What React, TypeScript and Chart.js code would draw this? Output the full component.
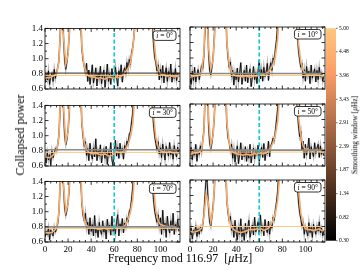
import React, { useEffect, useRef } from "react";
import { Chart, registerables } from "chart.js";
Chart.register(...registerables);

// ---------------- data ----------------
const PERIOD = 116.97;
const NU_MARK = 60;
const INCLINATIONS = [0, 10, 30, 50, 70, 90];
const X_TICKS = [0, 20, 40, 60, 80, 100];
const X_MINOR = [5, 10, 15, 25, 30, 35, 45, 50, 55, 65, 70, 75, 85, 90, 95, 105, 110, 115];
const Y_TICKS = [0.6, 0.8, 1.0, 1.2, 1.4];
const Y_MINOR = [0.7, 0.9, 1.1, 1.3];
const CBAR_TICKS = [0.3, 0.82, 1.34, 1.87, 2.39, 2.91, 3.43, 3.96, 4.48, 5.0];

const RAW_FREQ = [...Array(117).keys()];
const SMOOTH_FREQ = RAW_FREQ.filter((f) => f % 2 === 0);

const RAW_I0 = [
  0.68, 0.79, 0.72, 0.84, 0.66, 0.77, 0.81, 0.7, 0.86, 0.74,
  0.82, 0.88, 0.97, 1.25, 1.7, 1.85, 1.3, 0.98, 0.86, 0.96,
  1.1, 1.3, 1.65, 2.2, 3, 3, 3, 3, 3, 3,
  2.1, 1.45, 1.12, 0.98, 0.9, 0.82, 0.94, 0.7, 0.85, 0.66,
  0.79, 0.92, 0.68, 0.76, 0.88, 0.64, 0.81, 0.73, 0.9, 0.67,
  0.78, 0.85, 0.62, 0.76, 0.93, 0.7, 0.8, 0.66, 0.87, 0.74,
  0.71, 0.89, 0.76, 0.64, 0.84, 0.78, 0.92, 0.69, 0.83, 0.88,
  0.8, 0.95, 0.86, 0.99, 0.92, 1.08, 1.15, 1.28, 1.5, 2.0,
  3, 3, 3, 3, 3, 3, 3, 3, 3, 3,
  3, 2.6, 1.9, 1.45, 1.2, 1.02, 0.95, 0.84, 0.92, 0.72,
  0.86, 0.75, 0.91, 0.68, 0.8, 0.88, 0.7, 0.83, 0.76, 0.93,
  0.69, 0.81, 0.74, 0.87, 0.71, 0.79, 0.76,
];
const RAW_I10 = [
  0.74, 0.66, 0.83, 0.71, 0.88, 0.69, 0.78, 0.85, 0.72, 0.8,
  0.9, 0.86, 1.02, 1.35, 2.4, 1.9, 1.1, 0.84, 0.78, 0.88,
  1.0, 1.25, 1.6, 2.3, 3, 3, 3, 3, 3, 3,
  2.4, 1.55, 1.18, 1.0, 0.88, 0.95, 0.76, 0.84, 0.65, 0.81,
  0.72, 0.87, 0.69, 0.8, 0.94, 0.66, 0.77, 0.84, 0.7, 0.91,
  0.68, 0.79, 0.86, 0.63, 0.75, 0.89, 0.72, 0.81, 0.67, 0.84,
  0.97, 0.73, 0.85, 0.7, 0.88, 0.76, 0.82, 0.93, 0.71, 0.86,
  0.94, 0.84, 1.0, 0.95, 1.12, 1.24, 1.45, 1.9, 3, 3,
  3, 3, 3, 3, 3, 3, 3, 3, 3, 3,
  3, 2.2, 1.6, 1.3, 1.1, 0.97, 0.88, 0.93, 0.74, 0.85,
  0.7, 0.89, 0.77, 0.83, 0.67, 0.91, 0.74, 0.8, 0.86, 0.69,
  0.84, 0.72, 0.88, 0.76, 0.81, 0.7, 0.78,
];
const RAW_I30 = [
  0.7, 0.64, 0.78, 0.68, 0.75, 0.62, 0.8, 0.71, 0.77, 0.83,
  0.79, 0.88, 1.0, 1.3, 2.0, 2.2, 1.35, 1.0, 0.88, 0.95,
  1.08, 1.28, 1.7, 2.4, 3, 3, 3, 3, 3, 3,
  2.2, 1.5, 1.15, 0.99, 0.86, 0.92, 0.74, 0.83, 0.67, 0.9,
  0.75, 0.69, 0.84, 0.72, 0.96, 0.67, 0.8, 0.73, 0.88, 0.64,
  0.77, 0.83, 0.7, 0.86, 0.62, 0.79, 0.74, 0.91, 0.68, 0.6,
  0.82, 0.94, 0.73, 0.85, 0.7, 0.9, 0.77, 0.83, 0.69, 0.87,
  0.81, 0.93, 0.88, 1.02, 1.05, 1.18, 1.3, 1.6, 2.5, 3,
  3, 3, 3, 3, 3, 3, 3, 3, 3, 3,
  3, 2.4, 1.75, 1.38, 1.15, 1.0, 0.9, 0.82, 0.92, 0.76,
  0.84, 0.71, 0.89, 0.78, 0.68, 0.86, 0.8, 0.73, 0.91, 0.75,
  0.82, 0.69, 0.87, 0.77, 0.72, 0.85, 0.76,
];
const RAW_I50 = [
  0.72, 0.84, 0.68, 0.79, 0.74, 0.88, 0.66, 0.8, 0.75, 0.86,
  0.78, 0.92, 1.05, 1.45, 2.6, 2.0, 1.15, 0.9, 0.82, 0.9,
  1.02, 1.22, 1.55, 2.2, 3, 3, 3, 3, 3, 3,
  2.3, 1.48, 1.12, 0.96, 0.9, 0.8, 0.88, 0.7, 0.82, 0.65,
  0.78, 0.86, 0.63, 0.75, 0.9, 0.68, 0.81, 0.72, 0.85, 0.66,
  0.79, 0.7, 0.88, 0.64, 0.76, 0.83, 0.69, 0.8, 0.74, 0.87,
  0.66, 0.78, 0.84, 0.71, 0.89, 0.67, 0.8, 0.76, 0.92, 0.72,
  0.86, 0.9, 0.96, 0.92, 1.06, 1.2, 1.35, 1.7, 2.6, 3,
  3, 3, 3, 3, 3, 3, 3, 3, 3, 3,
  3, 2.3, 1.65, 1.32, 1.12, 0.98, 1.05, 0.8, 0.92, 0.7,
  0.88, 0.74, 0.82, 0.96, 0.69, 0.85, 0.78, 0.72, 0.9, 0.76,
  0.83, 0.88, 0.71, 0.86, 0.75, 0.8, 0.73,
];
const RAW_I70 = [
  0.66, 0.74, 0.7, 0.79, 0.63, 0.76, 0.71, 0.68, 0.8, 0.73,
  0.77, 0.84, 0.98, 1.3, 2.2, 1.8, 1.35, 1.05, 0.95, 1.02,
  1.12, 1.3, 1.62, 2.2, 3, 3, 3, 3, 3, 3,
  2.1, 1.42, 1.1, 0.95, 0.88, 0.98, 0.78, 0.86, 0.7, 0.92,
  0.74, 0.83, 0.68, 0.95, 0.72, 0.8, 0.66, 0.86, 0.75, 0.7,
  0.88, 0.73, 0.81, 0.64, 0.9, 0.76, 0.82, 0.69, 0.94, 0.74,
  0.8, 0.71, 0.87, 0.96, 0.68, 0.84, 0.77, 0.91, 0.72, 0.85,
  0.79, 0.92, 0.87, 1.0, 1.04, 1.16, 1.32, 1.58, 2.4, 3,
  3, 3, 3, 3, 3, 3, 3, 3, 3, 3,
  3, 2.5, 1.8, 1.4, 1.16, 1.01, 0.93, 0.86, 0.96, 0.8,
  0.92, 0.7, 1.02, 0.76, 0.85, 0.66, 0.94, 0.79, 0.72, 0.88,
  0.75, 0.98, 0.7, 0.83, 0.77, 0.9, 0.74,
];
const RAW_I90 = [
  0.7, 0.78, 0.64, 0.75, 0.72, 0.81, 0.67, 0.77, 0.7, 0.79,
  0.74, 0.82, 0.95, 1.2, 1.45, 1.35, 1.05, 0.86, 0.8, 0.92,
  1.06, 1.25, 1.6, 2.3, 3, 3, 3, 3, 3, 3,
  2.2, 1.48, 1.12, 0.97, 0.87, 0.93, 0.75, 0.82, 0.66, 0.88,
  0.72, 0.63, 0.8, 0.7, 0.9, 0.67, 0.76, 0.62, 0.84, 0.71,
  0.78, 0.88, 0.66, 0.74, 0.82, 0.69, 0.92, 0.73, 0.79, 0.86,
  0.7, 0.95, 0.74, 0.81, 0.68, 0.89, 0.76, 0.72, 0.87, 0.7,
  0.83, 0.78, 0.92, 0.88, 1.02, 1.12, 1.26, 1.55, 2.3, 3,
  3, 3, 3, 3, 3, 3, 3, 3, 3, 3,
  3, 2.4, 1.7, 1.35, 1.12, 0.98, 0.9, 0.8, 0.86, 0.7,
  0.8, 0.74, 0.68, 0.85, 0.72, 0.79, 0.66, 0.83, 0.76, 0.7,
  0.81, 0.74, 0.86, 0.72, 0.78, 0.68, 0.75,
];

const SMOOTH_I0 = [
  0.745, 0.75, 0.75, 0.76, 0.78, 0.8, 0.95, 1.55, 1.3, 0.93, 1.05, 1.6,
  3, 3, 3, 2.0, 1.15, 0.9, 0.8, 0.77, 0.76, 0.76, 0.75, 0.74,
  0.75, 0.74, 0.73, 0.75, 0.76, 0.75, 0.74, 0.76, 0.75, 0.77, 0.79, 0.83,
  0.87, 0.95, 1.12, 1.45, 3, 3, 3, 3, 3, 3, 2.2, 1.35,
  1.0, 0.86, 0.8, 0.79, 0.78, 0.77, 0.78, 0.77, 0.76, 0.77, 0.76,
];
const SMOOTH_I10 = [
  0.76, 0.76, 0.77, 0.77, 0.78, 0.82, 1.05, 1.9, 1.15, 0.86, 0.98, 1.45,
  3, 3, 3, 2.2, 1.2, 0.92, 0.82, 0.78, 0.77, 0.77, 0.76, 0.76,
  0.77, 0.76, 0.75, 0.76, 0.77, 0.77, 0.78, 0.78, 0.79, 0.8, 0.82, 0.86,
  0.92, 1.02, 1.25, 1.8, 3, 3, 3, 3, 3, 3, 1.8, 1.2,
  0.95, 0.84, 0.8, 0.79, 0.78, 0.78, 0.79, 0.78, 0.78, 0.77, 0.77,
];
const SMOOTH_I30 = [
  0.72, 0.71, 0.71, 0.73, 0.76, 0.8, 0.98, 1.7, 1.4, 0.92, 1.05, 1.65,
  3, 3, 3, 2.1, 1.18, 0.91, 0.81, 0.78, 0.77, 0.76, 0.77, 0.76,
  0.75, 0.75, 0.76, 0.74, 0.73, 0.74, 0.76, 0.79, 0.78, 0.78, 0.79, 0.83,
  0.89, 0.98, 1.15, 1.55, 3, 3, 3, 3, 3, 3, 2.0, 1.3,
  0.98, 0.85, 0.8, 0.79, 0.78, 0.78, 0.79, 0.78, 0.77, 0.78, 0.77,
];
const SMOOTH_I50 = [
  0.75, 0.76, 0.77, 0.77, 0.78, 0.81, 1.02, 1.9, 1.25, 0.87, 1.0, 1.5,
  3, 3, 3, 2.1, 1.16, 0.9, 0.8, 0.77, 0.76, 0.75, 0.75, 0.74,
  0.75, 0.75, 0.74, 0.75, 0.76, 0.75, 0.77, 0.76, 0.76, 0.77, 0.79, 0.84,
  0.9, 1.0, 1.18, 1.6, 3, 3, 3, 3, 3, 3, 1.9, 1.25,
  1.0, 0.86, 0.81, 0.82, 0.8, 0.79, 0.8, 0.81, 0.79, 0.78, 0.77,
];
const SMOOTH_I70 = [
  0.72, 0.72, 0.72, 0.73, 0.75, 0.79, 0.98, 1.65, 1.35, 1.0, 1.1, 1.6,
  3, 3, 3, 2.0, 1.13, 0.9, 0.82, 0.8, 0.79, 0.79, 0.78, 0.77,
  0.77, 0.78, 0.78, 0.77, 0.78, 0.78, 0.78, 0.79, 0.78, 0.79, 0.8, 0.83,
  0.9, 0.99, 1.16, 1.55, 3, 3, 3, 3, 3, 3, 2.1, 1.35,
  1.02, 0.88, 0.83, 0.82, 0.81, 0.8, 0.8, 0.81, 0.8, 0.79, 0.79,
];
const SMOOTH_I90 = [
  0.74, 0.73, 0.73, 0.74, 0.75, 0.78, 0.92, 1.22, 1.1, 0.86, 1.02, 1.55,
  3, 3, 3, 2.05, 1.14, 0.89, 0.79, 0.76, 0.74, 0.73, 0.72, 0.73,
  0.74, 0.75, 0.76, 0.76, 0.76, 0.77, 0.76, 0.77, 0.75, 0.76, 0.78, 0.82,
  0.88, 0.97, 1.14, 1.5, 3, 3, 3, 3, 3, 3, 2.0, 1.3,
  0.98, 0.84, 0.77, 0.76, 0.76, 0.75, 0.75, 0.76, 0.77, 0.75, 0.75,
];

const RAW = [RAW_I0, RAW_I10, RAW_I30, RAW_I50, RAW_I70, RAW_I90];
const SMOOTH = [SMOOTH_I0, SMOOTH_I10, SMOOTH_I30, SMOOTH_I50, SMOOTH_I70, SMOOTH_I90];
const REF_LEVEL = [0.81, 0.8, 0.815, 0.805, 0.8, 0.8];
const FIT_LEVEL = [0.78, 0.775, 0.78, 0.78, 0.78, 0.8];

// ---------------- style / layout ----------------
const SERIF = "'Liberation Serif', 'DejaVu Serif', serif";
const COL_X = [45, 190];
const ROW_Y = [27, 104, 180];
const PLOT_W = 135;
const PLOT_H = 62;
const PAD_L = 40, PAD_T = 6, PAD_R = 6, PAD_B = 18;
const COPPER_HI = "rgb(255,199,127)";
const COPPER_LINE = "rgb(246,172,110)";

const framePlugin = {
  id: "frame",
  afterDatasetsDraw(chart: any) {
    const { ctx, chartArea: a, scales } = chart;
    const x = scales.x, y = scales.y;
    ctx.save();
    ctx.strokeStyle = "#000";
    ctx.lineWidth = 0.8;
    ctx.strokeRect(a.left, a.top, a.right - a.left, a.bottom - a.top);
    ctx.beginPath();
    const xt = (v: number, L: number) => {
      const p = x.getPixelForValue(v);
      ctx.moveTo(p, a.bottom); ctx.lineTo(p, a.bottom - L);
      ctx.moveTo(p, a.top); ctx.lineTo(p, a.top + L);
    };
    const yt = (v: number, L: number) => {
      const p = y.getPixelForValue(v);
      ctx.moveTo(a.left, p); ctx.lineTo(a.left + L, p);
      ctx.moveTo(a.right, p); ctx.lineTo(a.right - L, p);
    };
    X_TICKS.forEach((v) => xt(v, 3.5));
    X_MINOR.forEach((v) => xt(v, 2));
    Y_TICKS.forEach((v) => yt(v, 3.5));
    Y_MINOR.forEach((v) => yt(v, 2));
    ctx.stroke();
    ctx.restore();
  },
  afterDraw(chart: any) {
    const { ctx, chartArea: a } = chart;
    const inc = chart.options.plugins.inset.value;
    ctx.save();
    const fs = 7.5;
    ctx.font = `italic ${fs}px ${SERIF}`;
    const t1 = "i";
    const w1 = ctx.measureText(t1).width;
    ctx.font = `${fs}px ${SERIF}`;
    const t2 = ` = ${inc}°`;
    const w2 = ctx.measureText(t2).width;
    const bw = w1 + w2 + 6, bh = 9.5;
    const bx = a.right - 4 - bw, by = a.top + 2.5;
    ctx.beginPath();
    (ctx as any).roundRect(bx, by, bw, bh, 2.5);
    ctx.fillStyle = "#fff";
    ctx.fill();
    ctx.strokeStyle = "#000";
    ctx.lineWidth = 0.8;
    ctx.stroke();
    ctx.fillStyle = "#000";
    ctx.textBaseline = "middle";
    ctx.font = `italic ${fs}px ${SERIF}`;
    ctx.fillText(t1, bx + 3, by + bh / 2 + 0.5);
    ctx.font = `${fs}px ${SERIF}`;
    ctx.fillText(t2, bx + 3 + w1, by + bh / 2 + 0.5);
    ctx.restore();
  },
};

function Panel({ idx }: { idx: number }) {
  const ref = useRef<HTMLCanvasElement>(null);
  const col = idx % 2;
  const row = Math.floor(idx / 2);
  const showY = col === 0;
  const showX = row === 2;
  useEffect(() => {
    const raw = RAW_FREQ.map((f, k) => ({ x: f, y: RAW[idx][k] }));
    const sm = SMOOTH_FREQ.map((f, k) => ({ x: f, y: SMOOTH[idx][k] }));
    const font = { family: SERIF, size: 9 };
    const chart = new Chart(ref.current!, {
      type: "line",
      data: {
        datasets: [
          { data: [{ x: NU_MARK, y: 0.6 }, { x: NU_MARK, y: 1.4 }], borderColor: "rgb(23,200,210)", borderWidth: 1.7, borderDash: [4, 2.5], pointRadius: 0 },
          { data: [{ x: 0, y: FIT_LEVEL[idx] }, { x: PERIOD, y: FIT_LEVEL[idx] }], borderColor: COPPER_HI, borderWidth: 1, pointRadius: 0 },
          { data: [{ x: 0, y: REF_LEVEL[idx] }, { x: PERIOD, y: REF_LEVEL[idx] }], borderColor: idx === 0 || idx === 5 ? "#111" : "#8a8a8a", borderWidth: idx === 0 || idx === 5 ? 0.9 : 1.6, pointRadius: 0 },
          { data: sm, borderColor: COPPER_LINE, borderWidth: 1.6, pointRadius: 0 },
          { data: raw, borderColor: "#000", borderWidth: 0.85, pointRadius: 0 },
          { data: raw, borderColor: "rgba(120,120,120,0.55)", borderWidth: 1.8, pointRadius: 0 },
        ],
      },
      options: {
        animation: false,
        responsive: false,
        devicePixelRatio: 1,
        events: [],
        layout: { padding: { left: 0, top: PAD_T, right: PAD_R, bottom: 0 } },
        plugins: { legend: { display: false }, tooltip: { enabled: false }, inset: { value: INCLINATIONS[idx] } } as any,
        scales: {
          x: {
            type: "linear", min: 0, max: PERIOD,
            grid: { display: false, drawTicks: false }, border: { display: false },
            afterBuildTicks: (s: any) => { s.ticks = X_TICKS.map((v) => ({ value: v })); },
            afterFit: (s: any) => { s.height = PAD_B; },
            ticks: { display: showX, padding: 2, font, color: "#000", maxRotation: 0, autoSkip: false, callback: (v: any) => String(v) },
          },
          y: {
            type: "linear", min: 0.6, max: 1.4,
            grid: { display: false, drawTicks: false }, border: { display: false },
            afterBuildTicks: (s: any) => { s.ticks = Y_TICKS.map((v) => ({ value: v })); },
            afterFit: (s: any) => { s.width = PAD_L; },
            ticks: { display: showY, padding: 2, font, color: "#000", autoSkip: false, callback: (v: any) => Number(v).toFixed(1) },
          },
        },
      } as any,
      plugins: [framePlugin],
    });
    return () => chart.destroy();
  }, []);
  return (
    <canvas
      ref={ref}
      width={PLOT_W + PAD_L + PAD_R}
      height={PLOT_H + PAD_T + PAD_B}
      style={{ position: "absolute", left: COL_X[col] - PAD_L, top: ROW_Y[row] - PAD_T }}
    />
  );
}

const CB_LEFT = 326, CB_W = 10, CB_TOP = 27, CB_H = 215, CB_LAB = 24, CB_PAD = 5;

const cbarPlugin = {
  id: "cbar",
  beforeDatasetsDraw(chart: any) {
    const { ctx, chartArea: a, scales } = chart;
    const y = scales.y;
    const top = y.getPixelForValue(CBAR_TICKS[CBAR_TICKS.length - 1]);
    const bot = y.getPixelForValue(CBAR_TICKS[0]);
    const g = ctx.createLinearGradient(0, bot, 0, top);
    g.addColorStop(0, "rgb(0,0,0)");
    g.addColorStop(0.8, "rgb(255,159,102)");
    g.addColorStop(1, "rgb(255,199,127)");
    ctx.save();
    ctx.fillStyle = g;
    ctx.fillRect(a.left, top, a.right - a.left, bot - top);
    ctx.strokeStyle = "#000";
    ctx.lineWidth = 0.6;
    ctx.beginPath();
    CBAR_TICKS.forEach((v) => {
      const p = y.getPixelForValue(v);
      ctx.moveTo(a.right, p);
      ctx.lineTo(a.right + 1.5, p);
    });
    ctx.stroke();
    ctx.restore();
  },
};

function ColorBar() {
  const ref = useRef<HTMLCanvasElement>(null);
  useEffect(() => {
    const chart = new Chart(ref.current!, {
      type: "line",
      data: { datasets: [] },
      options: {
        animation: false,
        responsive: false,
        devicePixelRatio: 1,
        events: [],
        layout: { padding: { left: 0, top: CB_PAD, right: 0, bottom: CB_PAD } },
        plugins: { legend: { display: false }, tooltip: { enabled: false } },
        scales: {
          x: { display: false },
          y: {
            type: "linear", position: "right", min: CBAR_TICKS[0], max: CBAR_TICKS[CBAR_TICKS.length - 1],
            grid: { display: false, drawTicks: false }, border: { display: false },
            afterBuildTicks: (s: any) => { s.ticks = CBAR_TICKS.map((v) => ({ value: v })); },
            afterFit: (s: any) => { s.width = CB_LAB; },
            ticks: { padding: 3, font: { family: SERIF, size: 5.5 }, color: "#000", autoSkip: false, callback: (v: any) => Number(v).toFixed(2) },
          },
        },
      } as any,
      plugins: [cbarPlugin],
    });
    return () => chart.destroy();
  }, []);
  return (
    <canvas
      ref={ref}
      width={CB_W + CB_LAB}
      height={CB_H + 2 * CB_PAD}
      style={{ position: "absolute", left: CB_LEFT, top: CB_TOP - CB_PAD }}
    />
  );
}

export default function App() {
  const rot = (cx: number, cy: number, size: number, content: any) => (
    <div
      style={{
        position: "absolute", left: cx, top: cy, transform: "translate(-50%, -50%) rotate(-90deg)",
        whiteSpace: "nowrap", fontFamily: SERIF, fontSize: size, color: "#000", lineHeight: 1,
      }}
    >
      {content}
    </div>
  );
  return (
    <div style={{ position: "fixed", left: 0, top: 0, width: 360, height: 270, background: "#fff", overflow: "hidden" }}>
      {INCLINATIONS.map((_, i) => (
        <Panel key={i} idx={i} />
      ))}
      <ColorBar />
      {rot(20, 135, 12, "Collapsed power")}
      {rot(355, 135, 7.5, <span>Smoothing window [<i>μ</i>Hz]</span>)}
      <div
        style={{
          position: "absolute", left: 180, top: 258, transform: "translate(-50%, -50%)",
          whiteSpace: "pre", fontFamily: SERIF, fontSize: 12, color: "#000", lineHeight: 1,
        }}
      >
        Frequency mod 116.97  [<i>μ</i>Hz]
      </div>
    </div>
  );
}
